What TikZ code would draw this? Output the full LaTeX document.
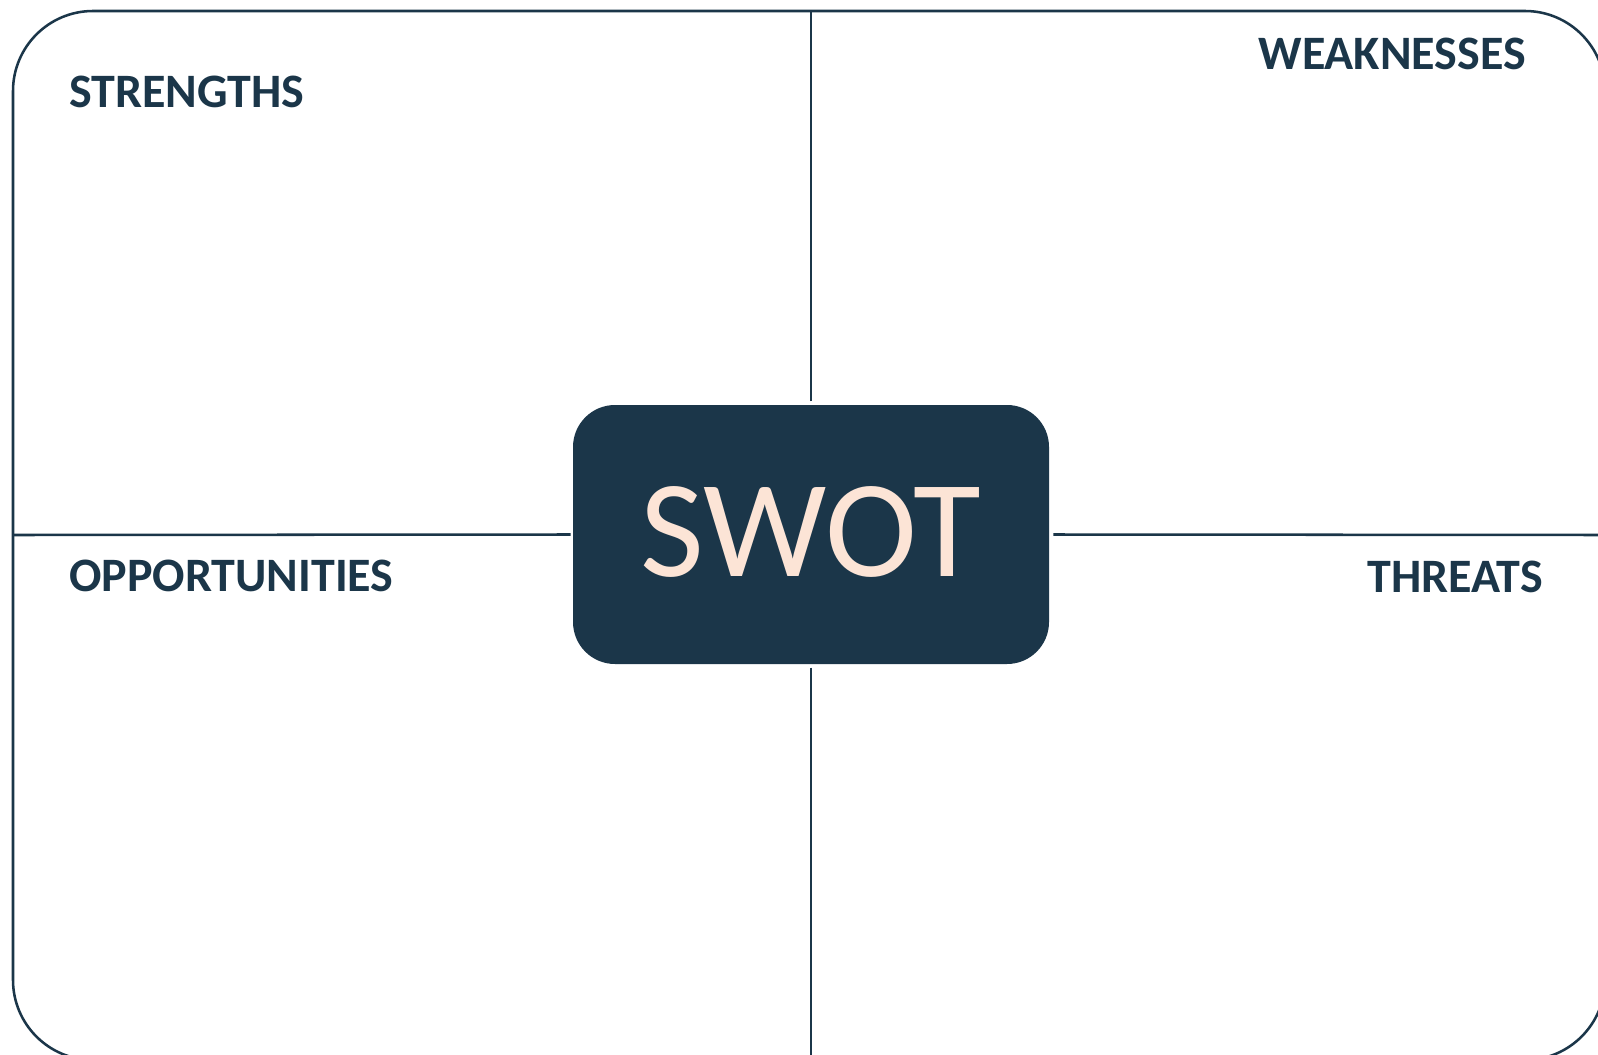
\documentclass[tikz,border=0pt]{standalone}
\usepackage{fontspec}
\setmainfont{Carlito}
\definecolor{navy}{HTML}{1B3649}
\definecolor{peach}{HTML}{FCE4D6}
\begin{document}
\begin{tikzpicture}[x=0.75pt,y=-0.75pt,
  frame/.style={draw=navy,line width=1.9pt,rounded corners=60pt},
  divider/.style={draw=navy,line width=1.9pt},
  centerbox/.style={fill=navy,draw=none,rounded corners=31.5pt,minimum width=357pt,minimum height=194.25pt,inner sep=0pt,text=peach,font=\fontsize{104}{110}\selectfont},
  label/.style={text=navy,inner sep=0pt,font=\bfseries\fontsize{36}{42}\selectfont}]
\useasboundingbox (0,0) rectangle (1598,1055);
\clip (0,0) rectangle (1598,1055);
\fill[white] (0,0) rectangle (1598,1055);
\draw[frame] (13,11) rectangle (1605,1060);
\node[centerbox] (swot) at (811,534.5) {\raisebox{3.75pt}{SWOT}};
\coordinate (topc) at (811,11);
\coordinate (botc) at (811,1060);
\coordinate (leftc) at (13,535);
\coordinate (rightc) at (1605,535);
\draw[divider,shorten <=2.5pt] (swot.north) -- (topc);
\draw[divider,shorten <=2.5pt] (swot.south) -- (botc);
\draw[divider,shorten <=1.5pt] (swot.west) -- (leftc);
\draw[divider,shorten <=3pt] (swot.east) -- (rightc);
\node[label,anchor=base west] (s) at (69,108) {STRENGTHS};
\node[label,anchor=base east] (w) at (1526,70) {WEAKNESSES};
\node[label,anchor=base west] (o) at (69,591) {OPPORTUNITIES};
\node[label,anchor=base east] (t) at (1543,592) {THREATS};
\end{tikzpicture}
\end{document}
